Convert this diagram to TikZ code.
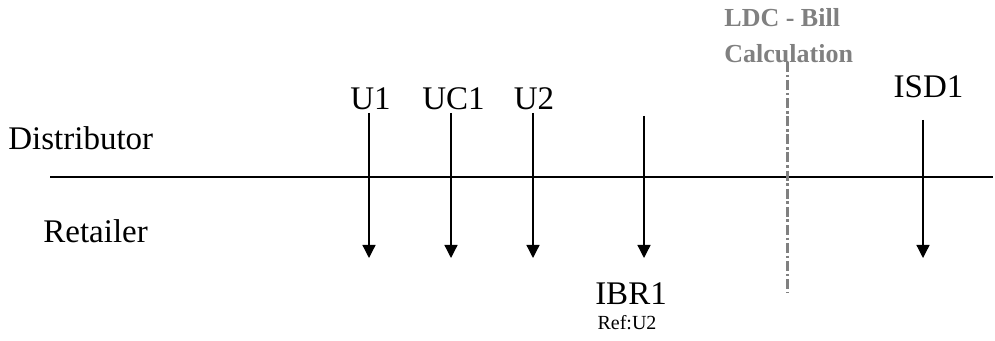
\documentclass[tikz,border=0pt]{standalone}
\usepackage{fontspec}
\setmainfont{Liberation Serif}
\usepackage{tikz}
\usetikzlibrary{arrows.meta}
\definecolor{ldcgray}{HTML}{808080}

\begin{document}
\begin{tikzpicture}[x=0.5pt, y=-0.5pt,
    lbl/.style={font=\fontsize{16.5}{18}\selectfont, inner sep=0pt, anchor=base},
    msg/.style={line width=0.65pt, -{Triangle[width=6.5pt, length=6.5pt]}}]
  \useasboundingbox (0,0) rectangle (995,341);
  % party names and the boundary line
  \node[lbl, anchor=base west] (dist) at (8,150) {Distributor};
  \node[lbl, anchor=base west] (ret) at (43,243) {Retailer};
  \coordinate (line-l) at (50,177);
  \coordinate (line-r) at (993,177);
  \draw[line width=0.65pt] (line-l) -- (line-r);
  % messages
  \foreach \n/\x/\t in {u1/369/113, uc1/451/113, u2/533/113, ibr1/644/116, isd1/923/120} {
    \coordinate (\n-top) at (\x,\t);
    \coordinate (\n-tip) at (\x,258);
    \draw[msg] (\n-top) -- (\n-tip);
  }
  \node[lbl] (u1) at (370.5,110) {U1};
  \node[lbl] (uc1) at (453.5,110) {UC1};
  \node[lbl] (u2) at (534,110) {U2};
  \node[lbl] (isd1) at (928.5,98) {ISD1};
  \node[lbl] (ibr1) at (631,305) {IBR1};
  \node[lbl, font=\fontsize{10}{12}\selectfont] (ref) at (627,329) {Ref:U2};
  % bill calculation marker
  \node[inner sep=0pt, anchor=base west, align=left, text=ldcgray,
        font=\fontsize{13}{18}\selectfont\bfseries] (ldc) at (724,63) {LDC - Bill\\Calculation};
  \coordinate (ldc-top) at (787,62);
  \coordinate (ldc-bot) at (787,293);
  \draw[ldcgray, line width=1.5pt, dash pattern=on 5pt off 1.35pt on 1.35pt off 1.35pt] (ldc-top) -- (ldc-bot);
\end{tikzpicture}
\end{document}
